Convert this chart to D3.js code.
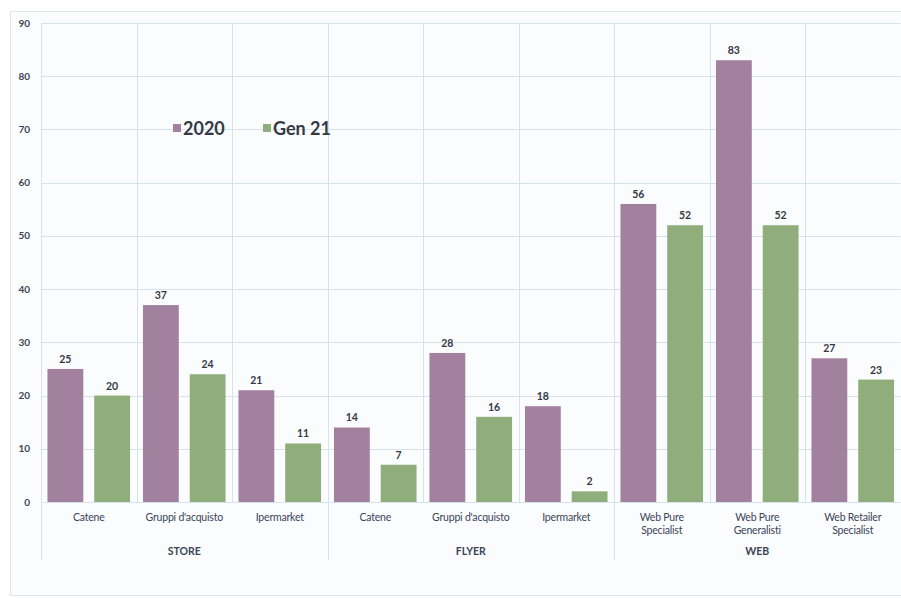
<!DOCTYPE html>
<html>
<head>
<meta charset="utf-8">
<script src="https://cdn.jsdelivr.net/npm/d3@7"></script>
<style>
  html, body { margin: 0; padding: 0; background: #ffffff; }
  svg { display: block; font-family: Lato, "Open Sans", sans-serif; }
</style>
</head>
<body>
<svg id="chart" width="901" height="598"></svg>
<script>
// Channel groups and the categories inside each one
const groups = ["STORE", "FLYER", "WEB"];
const groupOf = [0, 0, 0, 1, 1, 1, 2, 2, 2];
const categories = [
  ["Catene"], ["Gruppi d'acquisto"], ["Ipermarket"],
  ["Catene"], ["Gruppi d'acquisto"], ["Ipermarket"],
  ["Web Pure", "Specialist"], ["Web Pure", "Generalisti"], ["Web Retailer", "Specialist"]
];
const seriesNames = ["2020", "Gen 21"];
const values2020 = [25, 37, 21, 14, 28, 18, 56, 83, 27];
const valuesGen21 = [20, 24, 11, 7, 16, 2, 52, 52, 23];
const yTicks = [0, 10, 20, 30, 40, 50, 60, 70, 80, 90];
const colors = ["#a2819f", "#8fae7b"];

const svg = d3.select("#chart");
const plotLeft = 41, plotRight = 900.5, plotTop = 23, plotBottom = 502;

// outer panel
svg.append("rect")
  .attr("x", 10.5).attr("y", 11.5).attr("width", 892).attr("height", 584)
  .attr("fill", "#fbfcfe").attr("stroke", "#dfe7ec");

const x = d3.scaleBand().domain(d3.range(categories.length)).range([plotLeft, plotRight]);
const xi = d3.scaleBand().domain(seriesNames).range([0, x.bandwidth()])
  .paddingInner(0.234).paddingOuter(0.138);
const y = d3.scaleLinear().domain([0, 90]).range([plotBottom, plotTop]);

const grid = svg.append("g").attr("stroke", "#d6e3ea").attr("stroke-width", 1);
grid.selectAll("line.h").data(yTicks).join("line")
  .attr("x1", plotLeft).attr("x2", plotRight)
  .attr("y1", d => Math.round(y(d)) + 0.5).attr("y2", d => Math.round(y(d)) + 0.5);
grid.selectAll("line.v").data(d3.range(categories.length)).join("line")
  .attr("x1", d => Math.round(x(d)) + 0.5).attr("x2", d => Math.round(x(d)) + 0.5)
  .attr("y1", plotTop).attr("y2", plotBottom);

// group separators below the axis
const groupStarts = groups.map((g, gi) => groupOf.indexOf(gi));
svg.append("g").selectAll("line").data(groupStarts).join("line")
  .attr("x1", d => Math.round(x(d)) + 0.5).attr("x2", d => Math.round(x(d)) + 0.5)
  .attr("y1", plotBottom).attr("y2", 560)
  .attr("stroke", "#d6e3ea");

// y axis labels
svg.append("g").selectAll("text").data(yTicks).join("text")
  .attr("x", 30).attr("y", d => y(d) + 3.5)
  .attr("text-anchor", "end")
  .attr("font-size", 10).attr("font-weight", 700).attr("fill", "#3d4652")
  .text(d => d);

// bars
const series = [values2020, valuesGen21];
series.forEach((vals, si) => {
  const g = svg.append("g");
  g.selectAll("rect").data(vals).join("rect")
    .attr("x", (d, i) => x(i) + xi(seriesNames[si]))
    .attr("width", xi.bandwidth())
    .attr("y", d => y(d))
    .attr("height", d => y(0) - y(d))
    .attr("fill", colors[si]);
  g.selectAll("text").data(vals).join("text")
    .attr("x", (d, i) => x(i) + xi(seriesNames[si]) + xi.bandwidth() / 2)
    .attr("y", d => y(d) - 6)
    .attr("text-anchor", "middle")
    .attr("font-size", 10.5).attr("font-weight", 700).attr("fill", "#333a44")
    .text(d => d);
});

// category labels
const catG = svg.append("g");
categories.forEach((lines, i) => {
  const t = catG.append("text")
    .attr("x", x(i) + x.bandwidth() / 2).attr("y", 521)
    .attr("text-anchor", "middle")
    .attr("font-size", 10.5).attr("fill", "#3a4556")
    .attr("letter-spacing", "-0.2");
  lines.forEach((ln, k) => {
    t.append("tspan").attr("x", x(i) + x.bandwidth() / 2).attr("dy", k === 0 ? 0 : 12.5).text(ln);
  });
});

// group labels
svg.append("g").selectAll("text").data(groups).join("text")
  .attr("x", (g, gi) => {
    const idx = d3.range(categories.length).filter(i => groupOf[i] === gi);
    return (x(idx[0]) + x(idx[idx.length - 1]) + x.bandwidth()) / 2;
  })
  .attr("y", 555)
  .attr("text-anchor", "middle")
  .attr("font-size", 10.5).attr("font-weight", 700).attr("fill", "#3a4556")
  .text(d => d);

// legend
const legend = svg.append("g");
const legendX = [173, 263];
seriesNames.forEach((name, si) => {
  legend.append("rect")
    .attr("x", legendX[si]).attr("y", 124).attr("width", 8).attr("height", 8)
    .attr("fill", colors[si]);
  legend.append("text")
    .attr("x", legendX[si] + 10).attr("y", 134.5)
    .attr("font-size", 18).attr("font-weight", 700).attr("fill", "#333a44")
    .text(name);
});
</script>
</body>
</html>
